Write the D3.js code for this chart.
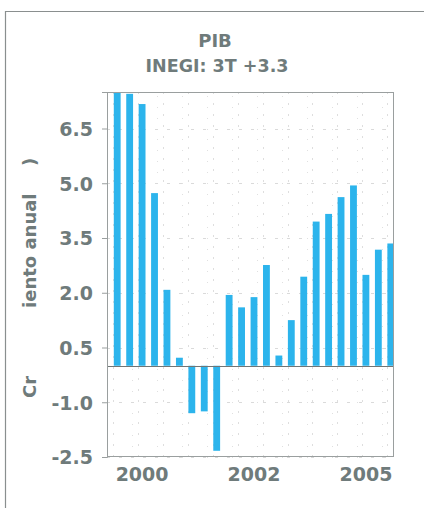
<!DOCTYPE html>
<html>
<head>
<meta charset="utf-8">
<script src="https://cdn.jsdelivr.net/npm/d3@7"></script>
<style>
  html, body { margin: 0; padding: 0; background: #fff; }
  svg { display: block; }
  text { font-family: "DejaVu Sans", Verdana, sans-serif; font-weight: bold; fill: #6f7b7b; }
</style>
</head>
<body>
<svg id="chart" width="424" height="508"></svg>
<script>
// ---- data ----
const categories = [
  "2000T1","2000T2","2000T3","2000T4",
  "2001T1","2001T2","2001T3","2001T4",
  "2002T1","2002T2","2002T3","2002T4",
  "2003T1","2003T2","2003T3","2003T4",
  "2004T1","2004T2","2004T3","2004T4",
  "2005T1","2005T2","2005T3"
];
const values = [7.6, 7.45, 7.17, 4.73, 2.08, 0.22, -1.30, -1.25, -2.33, 1.94, 1.60, 1.88,
                2.76, 0.28, 1.25, 2.44, 3.95, 4.16, 4.62, 4.94, 2.49, 3.18, 3.35];
const yTicks = [-2.5, -1.0, 0.5, 2.0, 3.5, 5.0, 6.5];
const yTickLabels = ["-2.5", "-1.0", "0.5", "2.0", "3.5", "5.0", "6.5"];
const xTickCats = ["2000T3", "2002T4", "2005T1"];
const xTickLabels = ["2000", "2002", "2005"];
const title = "PIB";
const subtitle = "INEGI: 3T +3.3";
const yTitleParts = ["Cr", "iento anual", ")"];

// ---- layout ----
const svg = d3.select("#chart");
const plot = { left: 107, right: 394, top: 92, bottom: 457 };

const x = d3.scaleBand().domain(categories).range([111, 397])
  .paddingInner(0.45).paddingOuter(0.225);
const y = d3.scaleLinear().domain([-2.5, 7.5]).range([plot.bottom, plot.top]);

// outer frame
svg.append("path")
  .attr("d", "M5.5,520 L5.5,11.5 L430,11.5")
  .attr("fill", "none").attr("stroke", "#8a8f8f").attr("stroke-width", 1.2);

// titles
svg.append("text").attr("x", 215).attr("y", 47).attr("text-anchor", "middle")
  .attr("font-size", 18).text(title);
svg.append("text").attr("x", 217).attr("y", 72).attr("text-anchor", "middle")
  .attr("font-size", 17.5).text(subtitle);

// grid: minor dotted rows & vertical dotted columns
const grid = svg.append("g");
const minorRows = d3.range(-2.5, 7.5 + 1e-9, 0.3);
grid.selectAll("line.minor").data(minorRows).join("line")
  .attr("x1", plot.left).attr("x2", plot.right)
  .attr("y1", d => Math.round(y(d)) + 0.5).attr("y2", d => Math.round(y(d)) + 0.5)
  .attr("stroke", "#e0e0e0").attr("stroke-width", 1)
  .attr("stroke-dasharray", "1,24");
grid.selectAll("line.major").data(yTicks).join("line")
  .attr("x1", plot.left).attr("x2", plot.right)
  .attr("y1", d => Math.round(y(d)) + 0.5).attr("y2", d => Math.round(y(d)) + 0.5)
  .attr("stroke", "#dadada").attr("stroke-width", 1)
  .attr("stroke-dasharray", "3,9");
const colCats = categories.filter((d, i) => i % 2 === 0);
grid.selectAll("line.col").data(colCats).join("line")
  .attr("x1", d => Math.round(x(d) - x.step() * 0.225 + x.step() * 0.2) + 0.5)
  .attr("x2", d => Math.round(x(d) - x.step() * 0.225 + x.step() * 0.2) + 0.5)
  .attr("y1", plot.top).attr("y2", plot.bottom)
  .attr("stroke", "#dedede").attr("stroke-width", 1)
  .attr("stroke-dasharray", "2,9");

// bars
svg.append("clipPath").attr("id", "clip").append("rect")
  .attr("x", plot.left).attr("y", plot.top)
  .attr("width", plot.right - plot.left).attr("height", plot.bottom - plot.top);
svg.append("g").attr("clip-path", "url(#clip)")
  .selectAll("rect").data(values).join("rect")
  .attr("x", (d, i) => x(categories[i]))
  .attr("width", x.bandwidth())
  .attr("y", d => y(Math.max(0, d)))
  .attr("height", d => Math.abs(y(d) - y(0)))
  .attr("fill", "#2cb4ec");

// zero line
svg.append("line").attr("x1", plot.left).attr("x2", plot.right)
  .attr("y1", Math.round(y(0)) + 0.5).attr("y2", Math.round(y(0)) + 0.5)
  .attr("stroke", "#707575").attr("stroke-width", 1.2);

// frame
svg.append("rect").attr("x", plot.left + 0.5).attr("y", plot.top + 0.5)
  .attr("width", plot.right - plot.left - 1).attr("height", plot.bottom - plot.top - 1)
  .attr("fill", "none").attr("stroke", "#9a9f9f").attr("stroke-width", 1);

// y axis
const yAxis = svg.append("g").attr("transform", `translate(${plot.left},0)`)
  .call(d3.axisLeft(y).tickValues(yTicks)
    .tickFormat(d => yTickLabels[yTicks.indexOf(d)]).tickSize(5).tickPadding(9));
yAxis.select(".domain").attr("stroke", "#9a9f9f");
yAxis.selectAll(".tick line").attr("stroke", "#9a9f9f");
yAxis.selectAll("text").attr("font-size", 19).attr("fill", "#6f7b7b")
  .attr("font-family", "DejaVu Sans").attr("font-weight", "bold").attr("dy", "0.36em");

// x axis
const xAxis = svg.append("g").attr("transform", `translate(0,${plot.bottom})`)
  .call(d3.axisBottom(x).tickValues(xTickCats)
    .tickFormat(d => xTickLabels[xTickCats.indexOf(d)]).tickSize(0).tickPadding(11));
xAxis.select(".domain").remove();
xAxis.selectAll("text").attr("font-size", 19).attr("fill", "#6f7b7b")
  .attr("font-family", "DejaVu Sans").attr("font-weight", "bold").attr("dy", "0.71em");

// y title (only visible fragments)
const yTitlePos = [398, 308, 166];
svg.selectAll("text.ytitle").data(yTitleParts).join("text")
  .attr("class", "ytitle")
  .attr("transform", (d, i) => `translate(36,${yTitlePos[i]}) rotate(-90)`)
  .attr("text-anchor", "start").attr("font-size", 18)
  .text(d => d);
</script>
</body>
</html>
